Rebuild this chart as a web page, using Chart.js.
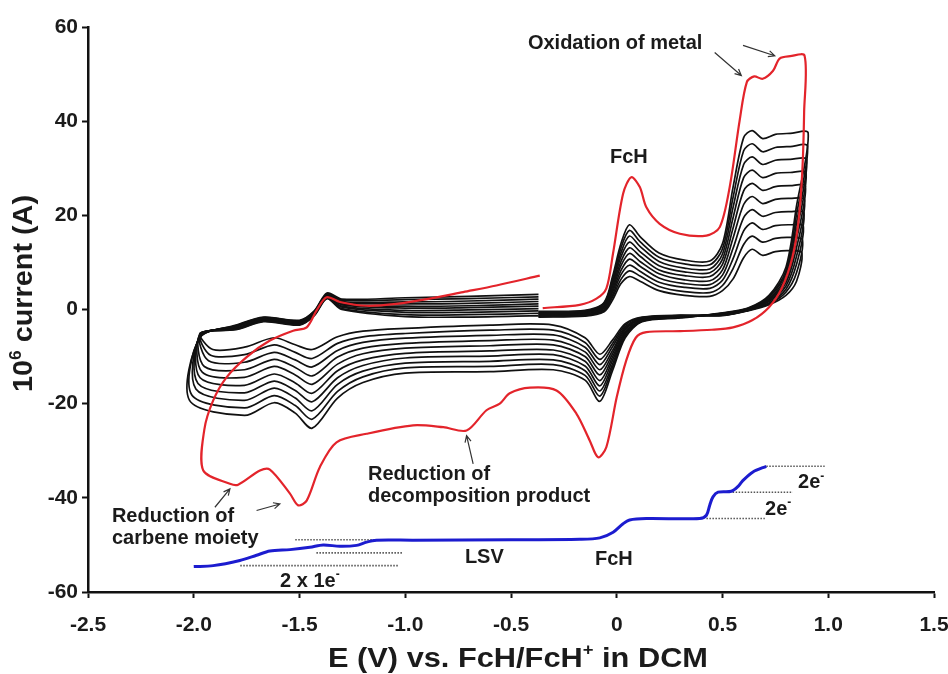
<!DOCTYPE html>
<html>
<head>
<meta charset="utf-8">
<script src="https://cdn.jsdelivr.net/npm/chart.js@4.4.1/dist/chart.umd.min.js"></script>
<style>
  html, body { margin: 0; padding: 0; background: #ffffff; }
  canvas { display: block; }
</style>
</head>
<body>
<canvas id="c" width="948" height="674"></canvas>
<script>
// ---------------- DATA ----------------
// Axis tick values
const xTicks = [-2.5, -2.0, -1.5, -1.0, -0.5, 0, 0.5, 1.0, 1.5];
const yTicks = [-60, -40, -20, 0, 20, 40, 60];

// Red CV (first scan), potential (V) and current (10^-6 A)
const redX = [-0.35,-0.175,-0.096,-0.049,-0.018,0.03,0.069,0.109,0.14,0.203,0.298,0.424,0.487,0.534,0.581,0.615,0.65,0.69,0.739,0.77,0.82,0.888,
  0.886,0.878,0.86,0.83,0.78,0.72,0.64,0.55,0.45,0.3,0.14,0.09,0.045,0.0,-0.049,-0.088,-0.128,-0.191,-0.285,-0.41,-0.506,-0.553,-0.616,-0.71,-0.82,-0.963,-1.183,-1.325,-1.404,-1.466,-1.506,-1.545,-1.64,-1.687,-1.79,-1.829,-1.955,
  -1.95,-1.908,-1.845,-1.75,-1.64,-1.53,-1.466,-1.419,-1.372,-1.309,-1.183,-1.041,-0.884,-0.726,-0.569,-0.364];
const redY = [0.3,1.0,2.3,4.5,11.8,24.6,28.1,26.0,21.7,18.2,16.1,15.7,17.5,26.0,40.1,48.3,49.5,49.0,50.7,53.3,53.8,53.9,
  42.0,30.0,19.0,11.0,4.5,0.5,-2.3,-3.8,-4.3,-4.6,-4.8,-6.0,-10.8,-18.6,-29.2,-31.4,-27.8,-22.1,-17.2,-16.6,-17.8,-20.0,-21.4,-25.7,-25.0,-24.6,-26.4,-28.2,-33.5,-40.6,-41.6,-39.1,-34.0,-34.2,-37.2,-37.0,-34.2,
  -25.5,-19.3,-14.4,-10.1,-6.6,-4.5,-3.8,-0.2,2.6,1.6,0.8,1.2,2.3,3.7,5.1,7.2];

// Black CV cycles: shared potential path; turning potentials per cycle
const blackPathX = [-0.37,-0.15,-0.06,-0.02,0.02,0.06,0.11,0.2,0.32,0.44,0.5,0.55,0.6,0.64,0.69,0.75,0.82,null,
  0.85,0.8,0.72,0.62,0.5,0.3,0.12,0.04,-0.02,-0.08,-0.15,-0.3,-0.6,-1.0,-1.2,-1.32,-1.44,-1.52,-1.62,-1.76,null,
  -1.97,-1.8,-1.67,-1.5,-1.43,-1.37,-1.3,-1.0,-0.7,-0.37];
const blackTurnRightX = [0.875,0.878,0.882,0.885,0.888,0.892,0.895,0.898,0.902,0.905];
const blackTurnLeftX = [-1.91,-1.92,-1.93,-1.95,-1.96,-1.97,-1.98,-1.99,-2.01,-2.02];
const blackY0 = [-1.6,-1.4,-0.5,2.0,5.5,7.0,6.0,4.0,3.0,2.8,4.0,6.5,11.0,12.8,11.5,12.3,12.5,12.0,6.0,3.0,1.0,-0.3,-1.3,-1.2,-1.6,-3.0,-6.5,-9.5,-6.0,-3.3,-3.3,-4.0,-4.6,-5.8,-8.5,-7.5,-6.0,-8.0,-8.5,-5.0,-4.3,-2.6,-3.3,-1.3,2.3,0.0,-1.5,-1.6,-1.3];
const blackY1 = [-1.5,-1.3,-0.3,2.6,6.4,8.2,7.1,4.9,3.8,3.6,5.1,8.7,13.8,15.6,14.3,15.1,15.3,14.8,7.8,3.7,1.2,-0.2,-1.2,-1.3,-1.7,-3.3,-7.2,-10.6,-7.0,-4.4,-4.4,-5.1,-5.8,-7.2,-10.4,-9.1,-7.5,-9.6,-9.7,-5.1,-4.2,-2.5,-3.2,-1.2,2.4,0.2,-1.1,-1.1,-0.8];
const blackY2 = [-1.3,-1.1,-0.1,3.1,7.4,9.4,8.1,5.8,4.7,4.5,6.2,10.8,16.7,18.4,17.0,17.8,18.0,17.7,9.6,4.3,1.4,-0.2,-1.2,-1.3,-1.8,-3.7,-7.9,-11.7,-8.0,-5.4,-5.5,-6.1,-7.0,-8.7,-12.2,-10.7,-9.1,-11.2,-10.9,-5.2,-4.1,-2.4,-3.1,-1.1,2.6,0.5,-0.6,-0.6,-0.3];
const blackY3 = [-1.2,-1.0,0.2,3.7,8.3,10.7,9.2,6.7,5.5,5.3,7.3,13.0,19.5,21.2,19.8,20.6,20.8,20.5,11.3,5.0,1.7,-0.1,-1.1,-1.4,-1.9,-4.0,-8.7,-12.8,-9.0,-6.5,-6.6,-7.2,-8.2,-10.1,-14.1,-12.3,-10.6,-12.8,-12.1,-5.3,-4.0,-2.3,-3.0,-1.0,2.7,0.7,-0.2,-0.1,0.2];
const blackY4 = [-1.1,-0.9,0.4,4.2,9.3,11.9,10.2,7.6,6.3,6.1,8.4,15.2,22.3,24.0,22.5,23.4,23.6,23.3,13.1,5.7,1.9,0.0,-1.0,-1.5,-2.0,-4.3,-9.4,-13.9,-10.0,-7.5,-7.7,-8.2,-9.4,-11.6,-15.9,-13.9,-12.1,-14.4,-13.3,-5.4,-3.9,-2.2,-2.9,-0.9,2.8,1.0,0.3,0.4,0.7];
const blackY5 = [-0.9,-0.7,0.6,4.8,10.2,13.1,11.3,8.4,7.2,7.0,9.6,17.3,25.2,26.8,25.3,26.1,26.3,26.2,14.9,6.3,2.1,0.0,-1.0,-1.5,-2.2,-4.7,-10.1,-15.1,-11.0,-8.6,-8.8,-9.3,-10.7,-13.0,-17.8,-15.6,-13.7,-16.1,-14.5,-5.6,-3.7,-2.0,-2.7,-0.7,2.9,1.2,0.7,0.8,1.2];
const blackY6 = [-0.8,-0.6,0.8,5.3,11.2,14.3,12.3,9.3,8.0,7.8,10.7,19.5,28.0,29.6,28.0,28.9,29.1,29.0,16.7,7.0,2.3,0.1,-0.9,-1.6,-2.3,-5.0,-10.8,-16.2,-12.0,-9.6,-9.9,-10.3,-11.9,-14.5,-19.6,-17.2,-15.2,-17.7,-15.7,-5.7,-3.6,-1.9,-2.6,-0.6,3.0,1.5,1.2,1.3,1.7];
const blackY7 = [-0.7,-0.5,1.1,5.9,12.1,15.6,13.4,10.2,8.8,8.6,11.8,21.7,30.8,32.4,30.8,31.7,31.9,31.8,18.4,7.7,2.6,0.2,-0.8,-1.7,-2.4,-5.3,-11.6,-17.3,-13.0,-10.7,-11.0,-11.4,-13.1,-15.9,-21.5,-18.8,-16.7,-19.3,-16.9,-5.8,-3.5,-1.8,-2.5,-0.5,3.2,1.7,1.6,1.8,2.2];
const blackY8 = [-0.5,-0.3,1.3,6.4,13.1,16.8,14.4,11.1,9.7,9.5,12.9,23.8,33.7,35.2,33.5,34.4,34.6,34.7,20.2,8.3,2.8,0.2,-0.8,-1.7,-2.5,-5.7,-12.3,-18.4,-14.0,-11.7,-12.1,-12.4,-14.3,-17.4,-23.3,-20.4,-18.3,-20.9,-18.1,-5.9,-3.4,-1.7,-2.4,-0.4,3.3,2.0,2.1,2.3,2.7];
const blackY9 = [-0.4,-0.2,1.5,7.0,14.0,18.0,15.5,12.0,10.5,10.3,14.0,26.0,36.5,38.0,36.3,37.2,37.4,37.5,22.0,9.0,3.0,0.3,-0.7,-1.8,-2.6,-6.0,-13.0,-19.5,-15.0,-12.8,-13.2,-13.5,-15.5,-18.8,-25.2,-22.0,-19.8,-22.5,-19.3,-6.0,-3.3,-1.6,-2.3,-0.3,3.5,2.2,2.5,2.8,3.2];
const blackCycles = [blackY0, blackY1, blackY2, blackY3, blackY4, blackY5, blackY6, blackY7, blackY8, blackY9];

// Blue LSV
const lsvX = [-2.0,-1.908,-1.782,-1.703,-1.64,-1.545,-1.451,-1.388,-1.309,-1.23,-1.183,-1.136,-0.963,-0.5,-0.175,-0.08,-0.017,0.03,0.061,0.14,0.392,0.424,0.44,0.455,0.479,0.542,0.575,0.597,0.644,0.707];
const lsvY = [-54.6,-54.4,-53.3,-52.2,-51.3,-51.0,-50.5,-50.0,-50.3,-50.1,-49.4,-49.0,-49.0,-48.9,-48.8,-48.5,-47.3,-45.5,-44.7,-44.4,-44.4,-43.7,-41.5,-39.8,-38.8,-38.6,-37.5,-36.3,-34.5,-33.3];

// Dotted LSV step levels
const levelY  = [-33.3, -38.8, -44.4, -48.9, -51.7, -54.4];
const levelX0 = [0.707, 0.548, 0.424, -1.52, -1.42, -1.78];
const levelX1 = [0.983, 0.832, 0.700, -1.136, -1.01, -1.03];

// ---------------- BUILD ----------------
const FONT = "'Liberation Sans', Arial, Helvetica, sans-serif";
const pts = (xs, ys) => xs.map((x, i) => ({ x: x, y: ys[i] }));

const datasets = [];
datasets.push({ data: pts(redX, redY), borderColor: '#e3242b', borderWidth: 2.2, tension: 0.3 });
datasets.push({ data: pts(lsvX, lsvY), borderColor: '#1c1ccf', borderWidth: 3, tension: 0.3 });
levelY.forEach((y, i) => {
  datasets.push({ data: [{ x: levelX0[i], y: y }, { x: levelX1[i], y: y }], borderColor: '#555', borderWidth: 1.6, borderDash: [1.5, 1.5], tension: 0 });
});
blackCycles.forEach((ys, k) => {
  const xs = blackPathX.map((x, i) => (i === 17 ? blackTurnRightX[k] : (i === 38 ? blackTurnLeftX[k] : x)));
  datasets.push({ data: pts(xs, ys), borderColor: '#111', borderWidth: 1.7, tension: 0.3 });
});
datasets.forEach(d => { d.showLine = true; d.pointRadius = 0; d.fill = false; });

// annotations (positions in data units)
const notes = [
  { parts: [{ t: 'Oxidation of metal' }], x: -0.42, y: 55.4 },
  { parts: [{ t: 'FcH' }], x: -0.032, y: 31.1 },
  { parts: [{ t: 'Reduction of' }], x: -1.176, y: -36.3 },
  { parts: [{ t: 'decomposition product' }], x: -1.176, y: -40.8 },
  { parts: [{ t: 'Reduction of' }], x: -2.387, y: -45.1 },
  { parts: [{ t: 'carbene moiety' }], x: -2.387, y: -49.7 },
  { parts: [{ t: 'LSV' }], x: -0.718, y: -53.8 },
  { parts: [{ t: 'FcH' }], x: -0.103, y: -54.3 },
  { parts: [{ t: '2e' }, { t: '-', sup: true }], x: 0.857, y: -37.9 },
  { parts: [{ t: '2e' }, { t: '-', sup: true }], x: 0.701, y: -43.6 },
  { parts: [{ t: '2 x 1e' }, { t: '-', sup: true }], x: -1.592, y: -58.9 }
];
const arrows = [
  [0.463, 54.6, 0.589, 49.7],
  [0.597, 56.1, 0.747, 53.9],
  [-0.679, -32.8, -0.710, -26.8],
  [-1.900, -42.0, -1.829, -38.1],
  [-1.703, -42.7, -1.593, -41.3]
];

function rich(ctx, parts, x, y, size, align, targetW) {
  ctx.save();
  const f = s => 'bold ' + s + 'px ' + FONT;
  let w = 0;
  parts.forEach(p => { ctx.font = f(p.sup ? size * 0.6 : size); p.w = ctx.measureText(p.t).width; w += p.w; });
  const sx = targetW ? targetW / w : 1;
  ctx.translate(x, y);
  ctx.scale(sx, 1);
  let cx = align === 'center' ? -w / 2 : 0;
  ctx.textAlign = 'left';
  ctx.textBaseline = 'alphabetic';
  ctx.fillStyle = '#1b1b1b';
  parts.forEach(p => {
    ctx.font = f(p.sup ? size * 0.6 : size);
    ctx.fillText(p.t, cx, p.sup ? -size * 0.42 : 0);
    cx += p.w;
  });
  ctx.restore();
}

const annot = {
  id: 'annot',
  afterDraw(chart) {
    const ctx = chart.ctx, sx = chart.scales.x, sy = chart.scales.y;
    // arrows
    ctx.save();
    ctx.strokeStyle = '#333';
    ctx.lineWidth = 1.2;
    arrows.forEach(a => {
      const x0 = sx.getPixelForValue(a[0]), y0 = sy.getPixelForValue(a[1]);
      const x1 = sx.getPixelForValue(a[2]), y1 = sy.getPixelForValue(a[3]);
      const ang = Math.atan2(y1 - y0, x1 - x0), L = 7;
      ctx.beginPath();
      ctx.moveTo(x0, y0); ctx.lineTo(x1, y1);
      ctx.moveTo(x1 - L * Math.cos(ang - 0.45), y1 - L * Math.sin(ang - 0.45));
      ctx.lineTo(x1, y1);
      ctx.lineTo(x1 - L * Math.cos(ang + 0.45), y1 - L * Math.sin(ang + 0.45));
      ctx.stroke();
    });
    ctx.restore();
    // notes
    notes.forEach(n => rich(ctx, n.parts, sx.getPixelForValue(n.x), sy.getPixelForValue(n.y), 20, 'left'));
    // axis titles
    rich(ctx, [{ t: 'E (V) vs. FcH/FcH' }, { t: '+', sup: true }, { t: ' in DCM' }], 518, 667, 28, 'center', 380);
    ctx.save();
    ctx.translate(32, 293.5);
    ctx.rotate(-Math.PI / 2);
    rich(ctx, [{ t: '10' }, { t: '6', sup: true }, { t: ' current (A)' }], 0, 0, 27, 'center', 197);
    ctx.restore();
  }
};

const tickFont = { family: FONT, size: 21, weight: 'bold' };
new Chart(document.getElementById('c'), {
  type: 'scatter',
  data: { datasets: datasets },
  options: {
    responsive: false,
    animation: false,
    layout: { padding: { top: 27, right: 14, left: 0, bottom: 0 } },
    plugins: { legend: { display: false }, tooltip: { enabled: false } },
    scales: {
      x: {
        type: 'linear', min: xTicks[0], max: xTicks[xTicks.length - 1],
        afterBuildTicks: s => { s.ticks = xTicks.map(v => ({ value: v })); },
        ticks: { font: tickFont, color: '#1b1b1b', padding: 15, maxRotation: 0, autoSkip: false,
          callback: v => (v === 0 ? '0' : Number(v).toFixed(1)) },
        grid: { display: true, drawOnChartArea: false, drawTicks: true, tickLength: 6, tickWidth: 2, tickColor: '#111' },
        border: { display: true, color: '#111', width: 2.5 },
        afterFit: s => { s.height = 82; s.paddingLeft = 0; s.paddingRight = 0; }
      },
      y: {
        type: 'linear', min: yTicks[0], max: yTicks[yTicks.length - 1],
        afterBuildTicks: s => { s.ticks = yTicks.map(v => ({ value: v })); },
        ticks: { font: tickFont, color: '#1b1b1b', padding: 4, autoSkip: false, callback: v => String(v) },
        grid: { display: true, drawOnChartArea: false, drawTicks: true, tickLength: 6, tickWidth: 2, tickColor: '#111' },
        border: { display: true, color: '#111', width: 2.5 },
        afterFit: s => { s.width = 88; s.paddingTop = 0; s.paddingBottom = 0; }
      }
    }
  },
  plugins: [annot]
});
</script>
</body>
</html>
